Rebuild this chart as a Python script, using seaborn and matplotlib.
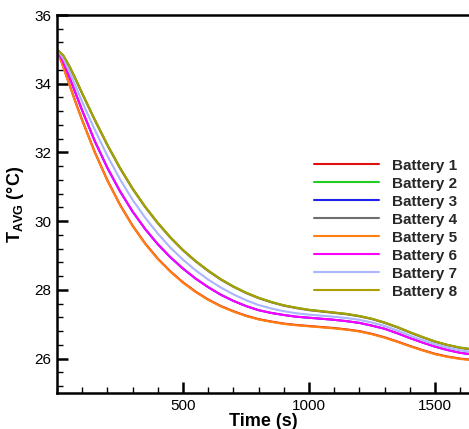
import matplotlib
matplotlib.use("Agg")
import matplotlib.pyplot as plt
from matplotlib.ticker import MultipleLocator, AutoMinorLocator
import pandas as pd
import seaborn as sns

# time points (s)
time = [0, 25, 50, 75, 100, 150, 200, 250, 300, 350, 400, 450, 500, 550, 600, 650,
        700, 750, 800, 850, 900, 950, 1000, 1050, 1100, 1150, 1200, 1250, 1300,
        1350, 1400, 1450, 1500, 1550, 1600, 1640]

# average temperature of each battery (degC)
battery_1 = [35.0, 34.49, 33.96, 33.44, 32.94, 32.01, 31.19, 30.48, 29.87, 29.35, 28.91, 28.54,
             28.22, 27.95, 27.72, 27.53, 27.38, 27.25, 27.15, 27.08, 27.02, 26.98, 26.95, 26.92,
             26.89, 26.85, 26.8, 26.72, 26.62, 26.5, 26.37, 26.25, 26.14, 26.06, 26.0, 25.97]
battery_2 = [35.0, 34.82, 34.5, 34.12, 33.72, 32.95, 32.22, 31.55, 30.95, 30.42, 29.95, 29.53,
             29.16, 28.84, 28.56, 28.31, 28.1, 27.92, 27.77, 27.65, 27.55, 27.48, 27.42, 27.38,
             27.34, 27.3, 27.24, 27.16, 27.05, 26.92, 26.77, 26.63, 26.5, 26.4, 26.32, 26.28]
battery_3 = [35.0, 34.62, 34.18, 33.7, 33.22, 32.33, 31.55, 30.87, 30.28, 29.77, 29.33, 28.95,
             28.62, 28.33, 28.08, 27.86, 27.68, 27.53, 27.41, 27.33, 27.27, 27.22, 27.19, 27.16,
             27.13, 27.09, 27.04, 26.96, 26.87, 26.74, 26.6, 26.47, 26.35, 26.25, 26.17, 26.13]
battery_4 = [35.0, 34.81, 34.49, 34.11, 33.71, 32.94, 32.21, 31.54, 30.94, 30.41, 29.94, 29.52,
             29.15, 28.83, 28.55, 28.3, 28.09, 27.91, 27.76, 27.64, 27.54, 27.47, 27.41, 27.37,
             27.33, 27.29, 27.23, 27.15, 27.04, 26.91, 26.76, 26.62, 26.49, 26.39, 26.31, 26.27]
battery_5 = [35.0, 34.48, 33.95, 33.43, 32.93, 32.0, 31.18, 30.47, 29.86, 29.34, 28.9, 28.53,
             28.21, 27.94, 27.71, 27.52, 27.37, 27.24, 27.14, 27.07, 27.01, 26.97, 26.94, 26.91,
             26.88, 26.84, 26.79, 26.71, 26.61, 26.49, 26.36, 26.24, 26.13, 26.05, 25.99, 25.96]
battery_6 = [35.0, 34.62, 34.18, 33.7, 33.22, 32.33, 31.55, 30.87, 30.28, 29.77, 29.33, 28.95,
             28.62, 28.33, 28.08, 27.86, 27.68, 27.53, 27.41, 27.33, 27.27, 27.22, 27.19, 27.16,
             27.13, 27.09, 27.04, 26.96, 26.87, 26.74, 26.6, 26.47, 26.35, 26.25, 26.17, 26.13]
battery_7 = [35.0, 34.73, 34.34, 33.91, 33.47, 32.66, 31.9, 31.22, 30.62, 30.1, 29.64, 29.23,
             28.88, 28.57, 28.3, 28.07, 27.87, 27.7, 27.56, 27.46, 27.38, 27.32, 27.28, 27.25,
             27.22, 27.18, 27.13, 27.05, 26.95, 26.82, 26.67, 26.54, 26.42, 26.32, 26.24, 26.2]
battery_8 = [35.0, 34.82, 34.5, 34.12, 33.72, 32.95, 32.22, 31.55, 30.95, 30.42, 29.95, 29.53,
             29.16, 28.84, 28.56, 28.31, 28.1, 27.92, 27.77, 27.65, 27.55, 27.48, 27.42, 27.38,
             27.34, 27.3, 27.24, 27.16, 27.05, 26.92, 26.77, 26.63, 26.5, 26.4, 26.32, 26.28]

names = ["Battery 1", "Battery 2", "Battery 3", "Battery 4",
         "Battery 5", "Battery 6", "Battery 7", "Battery 8"]
series = [battery_1, battery_2, battery_3, battery_4,
          battery_5, battery_6, battery_7, battery_8]
colors = ["#e01010", "#22cc22", "#2020ee", "#6e6e6e",
          "#ff8010", "#ff00ff", "#aab4ff", "#aaa000"]

df = pd.concat([pd.DataFrame({"Time": time, "T": s, "Battery": n})
                for n, s in zip(names, series)])

sns.set_style("ticks")
plt.rcParams["font.family"] = ["Liberation Sans", "DejaVu Sans"]
plt.rcParams["mathtext.fontset"] = "custom"
plt.rcParams["mathtext.rm"] = "Liberation Sans"
plt.rcParams["mathtext.bf"] = "Liberation Sans:bold"

fig = plt.figure(figsize=(4.69, 4.29), dpi=100)
ax = fig.add_axes([57 / 469, 36 / 429, 1 - 57 / 469, 378 / 429])

sns.lineplot(data=df, x="Time", y="T", hue="Battery", palette=colors,
             linewidth=1.5, ax=ax, sort=False)

ax.set_xlim(0, 1635)
ax.set_ylim(25, 36)
ax.xaxis.set_minor_locator(MultipleLocator(100))
ax.yaxis.set_major_locator(MultipleLocator(2))
ax.yaxis.set_minor_locator(AutoMinorLocator(5))
ax.set_xticks([500, 1000, 1500])
ax.tick_params(which="major", direction="in", length=8, width=1.8, labelsize=11,
               pad=4, color="black", labelcolor="black")
ax.tick_params(which="minor", direction="in", length=4, width=1, color="black")

for side in ["left", "bottom", "top"]:
    ax.spines[side].set_linewidth(1.8)
    ax.spines[side].set_color("black")
ax.spines["right"].set_visible(False)

ax.set_xlabel("Time (s)", fontsize=13, fontweight="bold", labelpad=0, color="black")
ax.set_ylabel(r"$\mathbf{T_{AVG}}$ (°C)", fontsize=13, fontweight="bold",
              labelpad=6, color="black")

leg = ax.legend(loc="upper left", bbox_to_anchor=(300 / 469, 1 - 145 / 429),
                bbox_transform=fig.transFigure, frameon=False,
                prop={"weight": "bold", "size": 11}, handlelength=4.3,
                handletextpad=0.8, labelspacing=0.26)
for line in leg.get_lines():
    line.set_linewidth(1.5)

fig.savefig("out.png", dpi=100)
